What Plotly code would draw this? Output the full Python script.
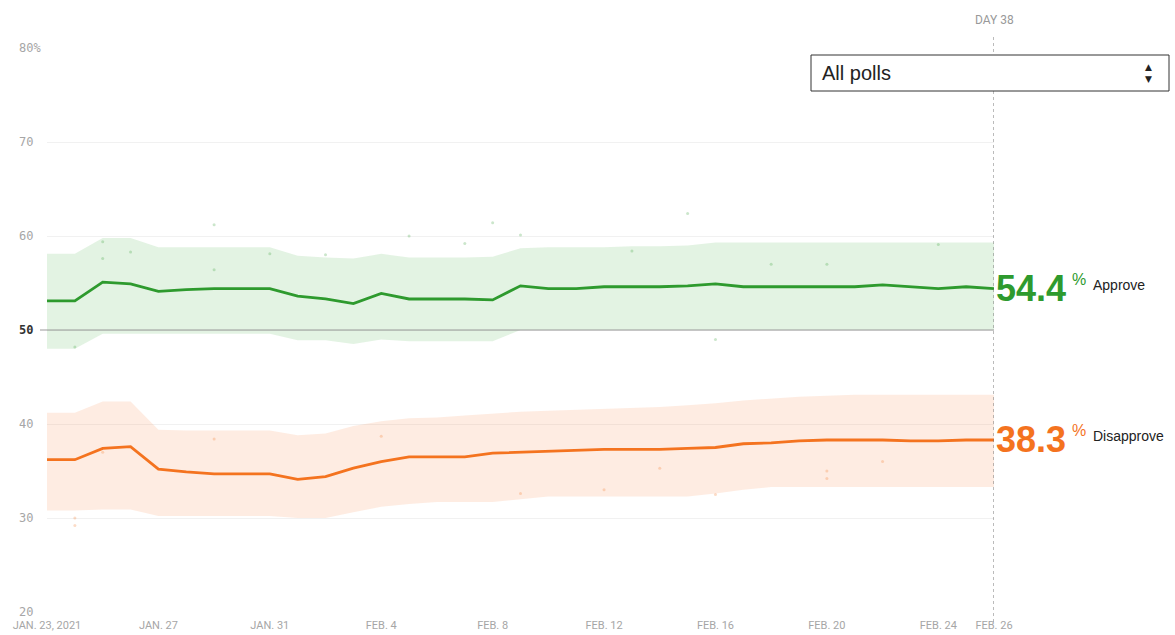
import plotly.graph_objects as go
import pandas as pd

dates = pd.date_range("2021-01-23", "2021-02-26", freq="D")

approve = [53.1, 53.1, 55.1, 54.9, 54.1, 54.3, 54.4, 54.4, 54.4, 53.6, 53.3, 52.8, 53.9,
           53.3, 53.3, 53.3, 53.2, 54.7, 54.4, 54.4, 54.6, 54.6, 54.6, 54.7, 54.9, 54.6,
           54.6, 54.6, 54.6, 54.6, 54.8, 54.6, 54.4, 54.6, 54.4]
approve_hi = [58.1, 58.1, 59.8, 59.8, 58.8, 58.8, 58.8, 58.8, 58.8, 57.9, 57.7, 57.6, 58.1,
              57.7, 57.7, 57.7, 57.8, 58.7, 58.8, 58.8, 58.8, 58.9, 58.9, 59.0, 59.3, 59.3,
              59.3, 59.3, 59.3, 59.3, 59.3, 59.3, 59.3, 59.3, 59.3]
approve_lo = [48.0, 48.0, 49.6, 49.6, 49.6, 49.6, 49.6, 49.6, 49.6, 48.9, 48.9, 48.5, 49.0,
              48.8, 48.8, 48.8, 48.8, 50.0, 50.0, 50.0, 50.0, 50.0, 50.0, 50.0, 50.0, 50.0,
              50.0, 50.0, 50.0, 50.0, 50.0, 50.0, 50.0, 50.0, 50.0]

disapprove = [36.2, 36.2, 37.4, 37.6, 35.2, 34.9, 34.7, 34.7, 34.7, 34.1, 34.4, 35.3, 36.0,
              36.5, 36.5, 36.5, 36.9, 37.0, 37.1, 37.2, 37.3, 37.3, 37.3, 37.4, 37.5, 37.9,
              38.0, 38.2, 38.3, 38.3, 38.3, 38.2, 38.2, 38.3, 38.3]
disapprove_hi = [41.2, 41.2, 42.4, 42.4, 39.4, 39.3, 39.3, 39.3, 39.3, 38.8, 39.0, 39.8, 40.3,
                 40.6, 40.7, 40.9, 41.1, 41.3, 41.4, 41.5, 41.6, 41.7, 41.8, 42.0, 42.2, 42.5,
                 42.7, 42.9, 43.0, 43.1, 43.1, 43.1, 43.1, 43.1, 43.1]
disapprove_lo = [30.8, 30.8, 30.9, 30.9, 30.2, 30.2, 30.2, 30.2, 30.2, 30.0, 30.0, 30.6, 31.2,
                 31.5, 31.7, 31.7, 31.7, 32.0, 32.3, 32.3, 32.3, 32.3, 32.3, 32.3, 32.6, 33.0,
                 33.3, 33.3, 33.3, 33.3, 33.3, 33.3, 33.3, 33.3, 33.3]

poll_app_dates = ["2021-01-25", "2021-01-25", "2021-01-26", "2021-01-29", "2021-01-29",
                  "2021-01-31", "2021-02-02", "2021-02-05", "2021-02-07", "2021-02-08",
                  "2021-02-09", "2021-02-13", "2021-02-15", "2021-02-18", "2021-02-20",
                  "2021-02-24", "2021-01-24", "2021-02-16"]
poll_app_vals = [59.4, 57.6, 58.3, 61.2, 56.4, 58.1, 58.0, 60.0, 59.2, 61.4, 60.1, 58.4,
                 62.4, 57.0, 57.0, 59.1, 48.2, 49.0]
poll_dis_dates = ["2021-01-25", "2021-01-29", "2021-02-04", "2021-02-14", "2021-02-20",
                  "2021-02-20", "2021-02-22", "2021-01-24", "2021-01-24", "2021-02-09",
                  "2021-02-12", "2021-02-16"]
poll_dis_vals = [37.0, 38.4, 38.7, 35.3, 35.0, 34.2, 36.0, 30.0, 29.2, 32.6, 33.0, 32.5]

y_ticks = [80, 70, 60, 50, 40, 30, 20]
y_labels = ["80%", "70", "60", "<b>50</b>", "40", "30", "20"]
x_ticks = ["2021-01-23", "2021-01-27", "2021-01-31", "2021-02-04", "2021-02-08",
           "2021-02-12", "2021-02-16", "2021-02-20", "2021-02-24", "2021-02-26"]
x_labels = ["JAN. 23, 2021", "JAN. 27", "JAN. 31", "FEB. 4", "FEB. 8",
            "FEB. 12", "FEB. 16", "FEB. 20", "FEB. 24", "FEB. 26"]

GREEN = "#2e9a2e"
ORANGE = "#f4731f"

L, R, T, B = 47, 994, 48, 612
W, H = 1175, 635


def px(xp):
    return (xp - L) / (R - L)


def py(yp):
    return (B - yp) / (B - T)


fig = go.Figure()

fig.add_trace(go.Scatter(x=dates, y=approve_hi, mode="lines", line=dict(width=0),
                         showlegend=False, hoverinfo="skip"))
fig.add_trace(go.Scatter(x=dates, y=approve_lo, mode="lines", line=dict(width=0),
                         fill="tonexty", fillcolor="rgba(60,170,60,0.14)",
                         showlegend=False, hoverinfo="skip"))
fig.add_trace(go.Scatter(x=dates, y=disapprove_hi, mode="lines", line=dict(width=0),
                         showlegend=False, hoverinfo="skip"))
fig.add_trace(go.Scatter(x=dates, y=disapprove_lo, mode="lines", line=dict(width=0),
                         fill="tonexty", fillcolor="rgba(250,130,60,0.15)",
                         showlegend=False, hoverinfo="skip"))

fig.add_trace(go.Scatter(x=pd.to_datetime(poll_app_dates), y=poll_app_vals, mode="markers",
                         marker=dict(size=3, color=GREEN, opacity=0.25),
                         showlegend=False, hoverinfo="skip"))
fig.add_trace(go.Scatter(x=pd.to_datetime(poll_dis_dates), y=poll_dis_vals, mode="markers",
                         marker=dict(size=3, color=ORANGE, opacity=0.25),
                         showlegend=False, hoverinfo="skip"))

fig.add_trace(go.Scatter(x=dates, y=approve, mode="lines",
                         line=dict(color=GREEN, width=2.8), showlegend=False))
fig.add_trace(go.Scatter(x=dates, y=disapprove, mode="lines",
                         line=dict(color=ORANGE, width=2.8), showlegend=False))

shapes = []
shapes.append(dict(type="line", xref="paper", yref="y", x0=px(40), x1=1, y0=50, y1=50,
                   line=dict(color="#999999", width=1.2), layer="above"))
shapes.append(dict(type="line", xref="x", yref="paper", x0=dates[-1], x1=dates[-1],
                   y0=py(622), y1=py(34), line=dict(color="#777777", width=1, dash="dot"),
                   layer="above"))
shapes.append(dict(type="rect", xref="paper", yref="paper", x0=px(811), x1=px(1169),
                   y0=py(91), y1=py(55), fillcolor="white",
                   line=dict(color="#333333", width=1), layer="above"))

annotations = []
for v, t in zip(y_ticks, y_labels):
    annotations.append(dict(xref="paper", yref="y", x=px(17), y=v, text=t, showarrow=False,
                            xanchor="left", yanchor="middle",
                            font=dict(family="DejaVu Sans Mono", size=12,
                                      color="#333333" if v == 50 else "#a6a6a6")))

annotations.append(dict(xref="x", yref="paper", x=dates[-1], y=py(20), text="DAY 38",
                        showarrow=False, xanchor="center", yanchor="middle",
                        font=dict(family="Roboto", size=12, color="#999999")))
annotations.append(dict(xref="paper", yref="paper", x=px(820), y=py(73), text="All polls",
                        showarrow=False, xanchor="left", yanchor="middle",
                        font=dict(family="Liberation Sans", size=20, color="#222222")))
annotations.append(dict(xref="paper", yref="paper", x=px(1148), y=py(73), text="▲<br>▼",
                        showarrow=False, xanchor="center", yanchor="middle",
                        font=dict(family="DejaVu Sans", size=9, color="#222222")))

for val, col, name in [(approve[-1], GREEN, "Approve"), (disapprove[-1], ORANGE, "Disapprove")]:
    annotations.append(dict(xref="x", yref="y", x=dates[-1], y=val, xshift=0,
                            text="<b>%.1f</b>" % val, showarrow=False,
                            xanchor="left", yanchor="middle",
                            font=dict(family="Liberation Sans", size=36, color=col)))
    annotations.append(dict(xref="x", yref="y", x=dates[-1], y=val, xshift=76, yshift=9,
                            text="%", showarrow=False, xanchor="left", yanchor="middle",
                            font=dict(family="Liberation Sans", size=16, color=col)))
    annotations.append(dict(xref="x", yref="y", x=dates[-1], y=val, xshift=97, yshift=4,
                            text=name, showarrow=False, xanchor="left", yanchor="middle",
                            font=dict(family="Liberation Sans", size=14, color="#222222")))

fig.update_layout(
    width=W, height=H,
    margin=dict(l=L, r=W - R, t=T, b=H - B),
    paper_bgcolor="white", plot_bgcolor="white",
    shapes=shapes, annotations=annotations,
    xaxis=dict(range=[dates[0], dates[-1]], tickvals=pd.to_datetime(x_ticks),
               ticktext=x_labels, showgrid=False, zeroline=False, showline=False,
               ticks="", tickfont=dict(family="Roboto", size=11, color="#a6a6a6"),
               ticklabelstandoff=5, automargin=False),
    yaxis=dict(range=[20, 80], tickvals=y_ticks, showticklabels=False,
               showgrid=True, gridcolor="#f1f1f1", gridwidth=1, zeroline=False,
               showline=False, ticks="", automargin=False),
)

post = ("document.body.style.margin='0';"
        "document.documentElement.style.overflow='hidden';"
        "document.body.style.overflow='hidden';"
        "var gd=document.getElementById('{plot_id}');"
        "gd.style.position='fixed';gd.style.top='0px';gd.style.left='0px';")

fig.write_html("out.html", config={"displayModeBar": False}, post_script=post)
